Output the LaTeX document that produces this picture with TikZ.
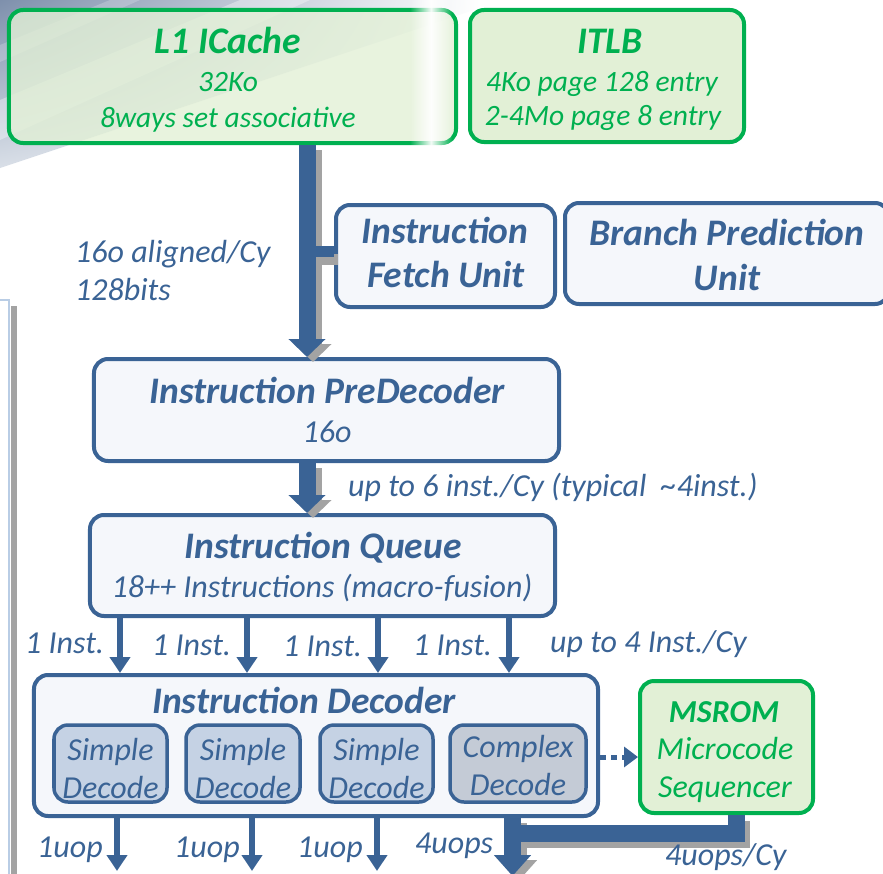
\documentclass[tikz,border=0pt]{standalone}
\usepackage{fontspec}
\setmainfont{Carlito}
\usetikzlibrary{arrows.meta,fadings,shadings}

\definecolor{ink}{HTML}{3A6395}
\definecolor{leaf}{HTML}{00B050}
\definecolor{leaffill}{HTML}{E2F0D6}
\definecolor{boxfill}{HTML}{F5F7FB}
\definecolor{subfill}{HTML}{C5D2E4}
\definecolor{cplxfill}{HTML}{C4CBD6}
\definecolor{shadowgray}{HTML}{A3A3A3}
\definecolor{slideA}{HTML}{7E90AC}
\definecolor{slideB}{HTML}{B3BFD0}
\definecolor{panelline}{HTML}{B9CDE5}

\newcommand{\ttlfont}{\fontsize{37.5bp}{42bp}\selectfont\bfseries\itshape}
\newcommand{\romttlfont}{\fontsize{32bp}{36bp}\selectfont\bfseries\itshape}
\newcommand{\txtfont}{\fontsize{32bp}{36bp}\selectfont\itshape}
\newcommand{\smallgreenfont}{\fontsize{29.5bp}{34bp}\selectfont\itshape}

\tikzfading[name=glarefade, left color=transparent!100, right color=transparent!100, middle color=transparent!5]

\begin{document}
\begin{tikzpicture}[x=1bp,y=-1bp,
  unitbox/.style={draw=ink, line width=4bp, fill=boxfill, rounded corners=14bp, inner sep=0pt},
  cachebox/.style={draw=leaf, line width=4bp, fill=leaffill, rounded corners=14bp, inner sep=0pt},
  decbox/.style={draw=ink, line width=3.5bp, fill=subfill, rounded corners=14bp, inner sep=0pt,
    minimum height=77bp},
  headtxt/.style={font=\ttlfont, anchor=base, inner sep=0pt},
  bodytxt/.style={font=\txtfont, anchor=base, inner sep=0pt},
  greentxt/.style={font=\smallgreenfont, text=leaf, anchor=base, inner sep=0pt},
  lbl/.style={font=\txtfont, text=ink, anchor=base west, inner sep=0pt},
  fat/.style={draw=ink, line width=17bp, -{Triangle[width=36bp,length=18bp]}},
  fatshadow/.style={fat, draw=shadowgray},
  feed/.style={draw=ink, line width=6bp, -{Triangle[width=20bp,length=16bp]}},
]
\path[use as bounding box] (0,0) rectangle (883,874);
\clip (0,0) rectangle (883,874);

% slide backdrop in the upper left corner
\begin{scope}
  \clip (0,0) -- (480,0) -- (480,8) -- (0,168) -- cycle;
  \shade[upper left=slideA, upper right=white, lower left=slideB!50, lower right=white]
    (0,0) rectangle (480,168);
  \fill[white, opacity=.35] (0,100) -- (240,0) -- (310,0) -- (0,140) -- cycle;
  \fill[white, opacity=.2] (0,45) -- (110,0) -- (140,0) -- (0,62) -- cycle;
\end{scope}

% side panel on the left edge
\fill[shadowgray] (11,306) rectangle (17,880);
\draw[panelline, line width=2bp, fill=white] (-10,300) rectangle (9,880);

% positions of the vertical connectors
\coordinate (spine) at (307,0);
\coordinate (q1) at (120,0);
\coordinate (q2) at (247,0);
\coordinate (q3) at (378,0);
\coordinate (q4) at (509,0);
\coordinate (u1) at (117,0);
\coordinate (u2) at (252,0);
\coordinate (u3) at (377,0);
\coordinate (bigx) at (512.5,0);
\coordinate (msx) at (736.5,0);
\coordinate (barY) at (0,833.5);
\coordinate (dashY) at (0,757);

% boxes
\node[cachebox, fill opacity=.8, minimum width=447bp, minimum height=133bp] (l1) at (232.5,76.5) {};
\fill[white, path fading=glarefade] (410,0) rectangle (452,152);
\node[cachebox, minimum width=274bp, minimum height=132bp] (itlb) at (607,76) {};
\node[unitbox, minimum width=219bp, minimum height=102bp] (ifu) at (445.5,256) {};
\node[unitbox, minimum width=324bp, minimum height=101bp] (bpu) at (727,253.5) {};
\node[unitbox, minimum width=465bp, minimum height=102bp] (pre) at (326.5,410) {};
\node[unitbox, minimum width=465bp, minimum height=101bp] (iq) at (322.5,565.5) {};
\node[unitbox, minimum width=564bp, minimum height=141bp] (dec) at (316,745.5) {};
\node[decbox, minimum width=113bp] (sd1) at (110.5,763.5) {};
\node[decbox, minimum width=114bp] (sd2) at (243,763.5) {};
\node[decbox, minimum width=113bp] (sd3) at (376.5,763.5) {};
\node[decbox, fill=cplxfill, minimum width=136bp] (cd) at (518,763.5) {};
\node[cachebox, minimum width=173bp, minimum height=132bp] (msrom) at (726.5,747) {};

% box texts
\node[headtxt, text=leaf] (l1t) at (228,53) {L1 ICache};
\node[greentxt] (l1a) at (228,91) {32Ko};
\node[greentxt] (l1b) at (228,127) {8ways set associative};
\node[headtxt, text=leaf] (itlbt) at (610,53) {ITLB};
\node[greentxt] (itlba) at (602,91) {4Ko page 128 entry};
\node[greentxt] (itlbb) at (603,125) {2-4Mo page 8 entry};
\node[headtxt, text=ink] (ifut) at (445,243) {Instruction};
\node[headtxt, text=ink] (ifub) at (446,287) {Fetch Unit};
\node[headtxt, text=ink] (bput) at (727,245) {Branch Prediction};
\node[headtxt, text=ink] (bpub) at (727,290) {Unit};
\node[headtxt, text=ink] (pret) at (327,403) {Instruction PreDecoder};
\node[bodytxt, text=ink] (prea) at (327,442) {16o};
\node[headtxt, text=ink] (iqt) at (323,558) {Instruction Queue};
\node[bodytxt, text=ink] (iqa) at (322,597) {18++ Instructions (macro-fusion)};
\node[headtxt, text=ink] (dect) at (304,713) {Instruction Decoder};
\node[bodytxt, text=ink] (sd1a) at (110.5,760) {Simple};
\node[bodytxt, text=ink] (sd1b) at (110.5,798) {Decode};
\node[bodytxt, text=ink] (sd2a) at (243,760) {Simple};
\node[bodytxt, text=ink] (sd2b) at (243,798) {Decode};
\node[bodytxt, text=ink] (sd3a) at (376.5,760) {Simple};
\node[bodytxt, text=ink] (sd3b) at (376.5,798) {Decode};
\node[bodytxt, text=ink] (cda) at (518,757) {Complex};
\node[bodytxt, text=ink] (cdb) at (518,795) {Decode};
\node[font=\romttlfont, text=leaf, anchor=base, inner sep=0pt] (mst) at (724,722) {MSROM};
\node[bodytxt, text=leaf] (msa) at (725,759) {Microcode};
\node[bodytxt, text=leaf] (msb) at (725,797) {Sequencer};

% connector end points
\coordinate (f0) at (l1.south -| spine);
\coordinate (f1) at (pre.north -| spine);
\coordinate (p0) at (pre.south -| spine);
\coordinate (p1) at (iq.north -| spine);
\coordinate (tap) at ([yshift=5bp]ifu.west);
\coordinate (tapL) at (spine |- tap);
\coordinate (d0) at (dec.south -| bigx);
\coordinate (bige) at (512.5,876);
\coordinate (m0) at (msrom.south -| msx);
\coordinate (join) at (bigx |- barY);
\coordinate (u1e) at (117,871);
\coordinate (u2e) at (252,871);
\coordinate (u3e) at (377,871);

% drop shadows of the wide connectors
\draw[fatshadow] ([shift={(6,5)}]f0) -- ([shift={(6,5)}]f1);
\draw[shadowgray, line width=11bp] ([shift={(6,8)}]tapL) -- ([shift={(4,8)}]tap);
\draw[fatshadow] ([shift={(6,5)}]p0) -- ([shift={(6,5)}]p1);
\draw[shadowgray, line width=17bp, line join=miter] ([shift={(5,6)}]m0) |- ([shift={(5,6)}]join);
\draw[fatshadow, -{Triangle[width=36bp,length=21bp]}] ([shift={(6,5)}]d0) -- ([shift={(6,5)}]bige);

% wide connectors
\draw[fat] (f0) -- (f1);
\draw[ink, line width=11bp] (tapL) -- (tap);
\draw[fat] (p0) -- (p1);
\draw[ink, line width=17bp, line join=miter] (m0) |- (join);
\draw[fat, -{Triangle[width=36bp,length=21bp]}] (d0) -- (bige);

% narrow connectors
\draw[feed] (iq.south -| q1) -- (dec.north -| q1);
\draw[feed] (iq.south -| q2) -- (dec.north -| q2);
\draw[feed] (iq.south -| q3) -- (dec.north -| q3);
\draw[feed] (iq.south -| q4) -- (dec.north -| q4);
\draw[feed] (dec.south -| u1) -- (u1e);
\draw[feed] (dec.south -| u2) -- (u2e);
\draw[feed] (dec.south -| u3) -- (u3e);
\draw[ink, line width=5bp, dash pattern=on 6bp off 5bp, -{Triangle[width=20bp,length=14bp]}]
  (dec.east |- dashY) -- (msrom.west |- dashY);

% connector labels
\node[lbl] (bw1) at (75,262) {16o aligned/Cy};
\node[lbl] (bw2) at (75,300) {128bits};
\node[lbl] (rate6) at (348,496) {up to 6 inst./Cy (typical\ \ \textasciitilde4inst.)};
\node[lbl] (i1) at (25,653) {1 Inst.};
\node[lbl] (i2) at (152,655) {1 Inst.};
\node[lbl] (i3) at (283,656) {1 Inst.};
\node[lbl] (i4) at (413,655) {1 Inst.};
\node[lbl] (rate4) at (550,652) {up to 4 Inst./Cy};
\node[lbl] (o1) at (37,857) {1uop};
\node[lbl] (o2) at (174,857) {1uop};
\node[lbl] (o3) at (297,857) {1uop};
\node[lbl] (o4) at (415,853) {4uops};
\node[lbl] (o5) at (665,865) {4uops/Cy};
\end{tikzpicture}
\end{document}
